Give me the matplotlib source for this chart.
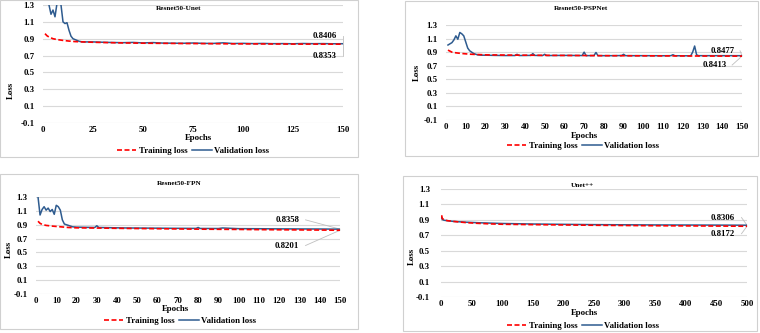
import matplotlib
matplotlib.use("Agg")
import matplotlib.pyplot as plt
from matplotlib.patches import Rectangle

plt.rcParams['font.family'] = ['Liberation Serif', 'DejaVu Serif']
plt.rcParams['font.weight'] = 'bold'

W, H = 760, 333

# ---- Resnet50-Unet ----
unet_val_ep = [1, 2, 3, 4, 5, 6, 7, 8, 9, 10, 11, 12, 13, 14, 15, 16, 17, 18, 19, 20,
               25, 30, 35, 40, 45, 50, 55, 60, 65, 70, 75, 80, 85, 90, 95, 100,
               105, 110, 115, 120, 125, 130, 135, 140, 145, 150]
unet_val = [1.45, 1.38, 1.30, 1.19, 1.24, 1.16, 1.32, 1.33, 1.30, 1.10, 1.08, 1.09, 1.00, 0.93,
            0.90, 0.89, 0.88, 0.87, 0.865, 0.862,
            0.862, 0.858, 0.855, 0.853, 0.856, 0.850, 0.854, 0.848, 0.847, 0.846, 0.849,
            0.845, 0.844, 0.851, 0.843, 0.845, 0.842, 0.844, 0.841, 0.842, 0.840, 0.843,
            0.841, 0.842, 0.840, 0.8406]
unet_tr_ep = [1, 2, 3, 4, 5, 7, 10, 13, 16, 20, 25, 30, 40, 50, 60, 70, 80, 90, 100,
              110, 120, 130, 140, 150]
unet_tr = [0.96, 0.935, 0.92, 0.91, 0.90, 0.89, 0.88, 0.872, 0.866, 0.862, 0.858, 0.855,
           0.850, 0.847, 0.845, 0.843, 0.842, 0.840, 0.839, 0.838, 0.837, 0.836, 0.836, 0.8353]

# ---- Resnet50-PSPNet ----
psp_val_ep = [1, 3, 4, 5, 6, 7, 8, 9, 10, 11, 12, 14, 16, 18, 20, 25, 30, 35, 36, 37,
              43, 44, 45, 49, 50, 51, 60, 69, 70, 71, 75, 76, 77, 85, 89, 90, 91, 100,
              110, 114, 115, 116, 124, 125, 126, 127, 128, 135, 140, 145, 150]
psp_val = [1.005, 1.04, 1.08, 1.14, 1.09, 1.19, 1.17, 1.14, 1.05, 0.96, 0.92, 0.88, 0.86,
           0.855, 0.855, 0.852, 0.850, 0.850, 0.868, 0.850, 0.852, 0.878, 0.852, 0.850,
           0.868, 0.850, 0.852, 0.850, 0.900, 0.848, 0.850, 0.895, 0.848, 0.848, 0.850,
           0.868, 0.848, 0.848, 0.847, 0.848, 0.862, 0.847, 0.846, 0.90, 0.99, 0.86,
           0.848, 0.848, 0.848, 0.848, 0.8477]
psp_tr_ep = [1, 3, 5, 8, 12, 16, 20, 30, 40, 50, 60, 70, 80, 90, 100, 110, 120, 130, 140, 150]
psp_tr = [0.93, 0.90, 0.89, 0.88, 0.87, 0.865, 0.86, 0.857, 0.855, 0.853, 0.851, 0.850,
          0.848, 0.847, 0.846, 0.845, 0.844, 0.843, 0.842, 0.8413]

# ---- Resnet50-FPN ----
fpn_val_ep = [1, 2, 3, 4, 5, 6, 7, 8, 9, 10, 11, 12, 13, 14, 16, 18, 20, 25, 29, 30, 31,
              35, 40, 45, 50, 60, 70, 79, 80, 81, 90, 92, 100, 110, 120, 130, 140, 150]
fpn_val = [1.30, 1.04, 1.12, 1.16, 1.11, 1.14, 1.09, 1.12, 1.05, 1.18, 1.16, 1.11, 0.97,
           0.91, 0.89, 0.87, 0.865, 0.862, 0.86, 0.885, 0.86, 0.858, 0.855, 0.853, 0.852,
           0.850, 0.848, 0.847, 0.86, 0.846, 0.845, 0.853, 0.843, 0.842, 0.840, 0.839,
           0.838, 0.8358]
fpn_tr_ep = [1, 2, 3, 5, 8, 12, 16, 20, 30, 40, 50, 60, 70, 80, 90, 100, 110, 120, 130, 140, 150]
fpn_tr = [0.95, 0.92, 0.905, 0.89, 0.88, 0.87, 0.86, 0.855, 0.852, 0.848, 0.845, 0.842,
          0.839, 0.836, 0.834, 0.832, 0.829, 0.827, 0.825, 0.823, 0.8201]

# ---- Unet++ ----
upp_ep = [1, 2, 5, 10, 20, 40, 60, 80, 100, 150, 200, 250, 300, 350, 400, 450, 500]
upp_val = [0.93, 0.905, 0.895, 0.89, 0.88, 0.87, 0.863, 0.858, 0.853, 0.846, 0.842, 0.838,
           0.836, 0.834, 0.833, 0.832, 0.8306]
upp_tr = [0.96, 0.92, 0.90, 0.89, 0.88, 0.865, 0.855, 0.848, 0.843, 0.838, 0.834, 0.830,
          0.827, 0.824, 0.822, 0.820, 0.8172]

y_ticks = [-0.1, 0.1, 0.3, 0.5, 0.7, 0.9, 1.1, 1.3]

RED = '#ff0000'
BLUE = '#2e5b8f'
GRID = '#d9d9d9'
FS = 6.3


def rect(l, r, t, b):
    return [l / W, 1 - b / H, (r - l) / W, (b - t) / H]


def fx(px):
    return px / W


def fy(py):
    return 1 - py / H


fig = plt.figure(figsize=(W / 100, H / 100), dpi=100)
fig.patch.set_facecolor('white')

# chart borders
for (l, r, t, b) in [(0, 358, 0, 157), (405, 758, 1, 156), (0, 358, 174, 329), (403, 757, 176, 331)]:
    fig.patches.append(Rectangle((fx(l), fy(b)), (r - l) / W, (b - t) / H,
                                 transform=fig.transFigure, fill=False,
                                 edgecolor='#d0d0d0', linewidth=0.8))

panels = [
    dict(title='Resnet50-Unet', pos=(43, 343, 5, 123), xmax=150, xt=range(0, 151, 25),
         val=(unet_val_ep, unet_val), tr=(unet_tr_ep, unet_tr),
         tcx=179, tcy=9, lossx=11, lossy=90, epx=198, epy=138, legx=193, legy=151,
         labs=[('0.8406', 141, 0.93), ('0.8353', 141, 0.69)], ypad=6),
    dict(title='Resnet50-PSPNet', pos=(446, 742, 25, 120), xmax=150, xt=range(0, 151, 10),
         val=(psp_val_ep, psp_val), tr=(psp_tr_ep, psp_tr),
         tcx=581, tcy=9, lossx=417, lossy=72, epx=584, epy=136, legx=583, legy=146,
         labs=[('0.8477', 140, 0.92), ('0.8413', 136, 0.71)], ypad=6),
    dict(title='Resnet50-FPN', pos=(36, 340, 197, 294), xmax=150, xt=range(0, 151, 10),
         val=(fpn_val_ep, fpn_val), tr=(fpn_tr_ep, fpn_tr),
         tcx=179, tcy=183, lossx=9, lossy=249, epx=175, epy=309, legx=180, legy=321,
         labs=[('0.8358', 124, 0.97), ('0.8201', 124, 0.60)], ypad=6),
    dict(title='Unet++', pos=(441, 747, 189, 297), xmax=500, xt=range(0, 501, 50),
         val=(upp_ep, upp_val), tr=(upp_ep, upp_tr),
         tcx=582, tcy=186, lossx=412, lossy=256, epx=584, epy=313, legx=583, legy=326,
         labs=[('0.8306', 461, 0.93), ('0.8172', 461, 0.72)], ypad=8),
]

for p in panels:
    l, r, t, b = p['pos']
    ax = fig.add_axes(rect(l, r, t, b))
    ax.plot(p['tr'][0], p['tr'][1], color=RED, linestyle=(0, (3, 1.5)), linewidth=1.2,
            label='Training loss', zorder=3)
    ax.plot(p['val'][0], p['val'][1], color=BLUE, linewidth=1.1,
            label='Validation loss', zorder=2)
    ax.set_xlim(0, p['xmax'])
    ax.set_ylim(-0.1, 1.3)
    ax.set_yticks(y_ticks)
    ax.set_yticklabels([f'{v:.1f}' for v in y_ticks])
    ax.set_xticks(list(p['xt']))
    ax.grid(axis='y', color=GRID, linewidth=0.8)
    ax.set_axisbelow(True)
    for s in ax.spines.values():
        s.set_visible(False)
    ax.tick_params(length=0, labelsize=FS, pad=2)
    ax.tick_params(axis='y', pad=p['ypad'])
    for lab in ax.get_xticklabels() + ax.get_yticklabels():
        lab.set_fontweight('bold')

    # end value labels with leader lines
    xe = p['xmax']
    ye_v = p['val'][1][-1]
    ye_t = p['tr'][1][-1]
    for (txt, xx, yy), ye in zip(p['labs'], [ye_v, ye_t]):
        ax.text(xx, yy, txt, fontsize=FS, fontweight='bold', ha='center', va='center', zorder=5)
        ax.plot([xx + 0.06 * xe, xe], [yy, ye], color='#bfbfbf', linewidth=0.6,
                clip_on=False, zorder=1)

    fig.text(fx(p['tcx']), fy(p['tcy']), p['title'], fontsize=5.2, fontweight='bold',
             ha='center', va='center')
    fig.text(fx(p['lossx']), fy(p['lossy']), 'Loss', fontsize=FS, fontweight='bold',
             ha='center', va='center', rotation=90)
    fig.text(fx(p['epx']), fy(p['epy']), 'Epochs', fontsize=FS, fontweight='bold',
             ha='center', va='center')
    leg = ax.legend(loc='center', bbox_to_anchor=(fx(p['legx']), fy(p['legy'])),
                    bbox_transform=fig.transFigure, ncol=2, frameon=False,
                    handlelength=2.2, handletextpad=0.3, columnspacing=0.6,
                    borderpad=0, prop={'weight': 'bold', 'size': FS})

fig.savefig('out.png', dpi=100, facecolor='white')
